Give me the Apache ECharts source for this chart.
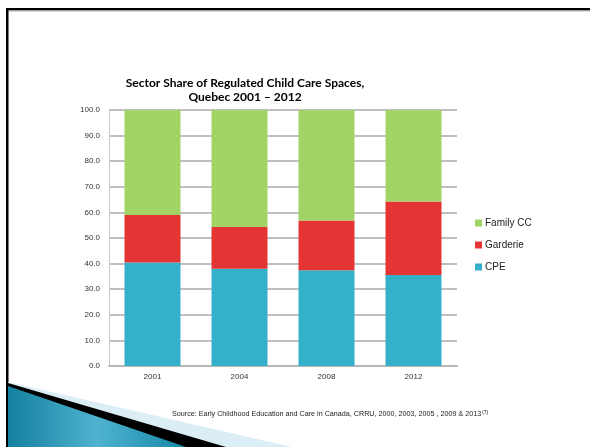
<!DOCTYPE html>
<html><head><meta charset="utf-8">
<script src="https://cdn.jsdelivr.net/npm/echarts@6/dist/echarts.min.js"></script>
<style>html,body{margin:0;padding:0;background:#fff}#c{width:590px;height:447px}</style>
</head><body><div id="c"></div>
<script>
var categories = ['2001', '2004', '2008', '2012'];
var cpe = [40.4, 38.0, 37.4, 35.5];
var garderie = [18.6, 16.3, 19.4, 28.8];
var familyCC = [41.0, 45.7, 43.2, 35.7];
var yTicks = [0, 10, 20, 30, 40, 50, 60, 70, 80, 90, 100];

var chart = echarts.init(document.getElementById('c'));
var font = "'Liberation Sans', sans-serif";
chart.setOption({
  backgroundColor: '#fff',
  animation: false,
  title: {
    text: 'Sector Share of Regulated Child Care Spaces,\nQuebec 2001 \u2013 2012',
    left: 240, top: 71, textAlign: 'center',
    textStyle: { fontFamily: 'Lato, sans-serif', fontWeight: 'bold', fontSize: 12, lineHeight: 14, color: '#000' }
  },
  legend: {
    orient: 'vertical', left: 470, top: 213, itemGap: 12,
    itemWidth: 7, itemHeight: 7, icon: 'rect',
    data: ['Family CC', 'Garderie', 'CPE'],
    textStyle: { fontFamily: font, fontSize: 10, color: '#222', padding: [0,0,0,-2] }
  },
  grid: { left: 109, right: 133, top: 110, bottom: 81 },
  xAxis: {
    type: 'category', data: categories,
    axisLine: { lineStyle: { color: '#b8b8b8', width: 2 } },
    axisTick: { show: false },
    axisLabel: { fontFamily: font, fontSize: 8, color: '#333', margin: 7 }
  },
  yAxis: {
    type: 'value', min: 0, max: 100, interval: 10,
    axisLine: { show: true, lineStyle: { color: '#c8c8c8', width: 1 } },
    axisTick: { show: false },
    splitLine: { lineStyle: { color: '#aaa', width: 1.5 } },
    axisLabel: { fontFamily: font, fontSize: 8, color: '#333', margin: 9,
      formatter: function (v) { return yTicks.indexOf(v) >= 0 ? v.toFixed(1) : ''; } }
  },
  series: [
    { name: 'CPE', type: 'bar', stack: 's', data: cpe, barWidth: 56, itemStyle: { color: '#35b0ca' } },
    { name: 'Garderie', type: 'bar', stack: 's', data: garderie, itemStyle: { color: '#e53434' } },
    { name: 'Family CC', type: 'bar', stack: 's', data: familyCC, itemStyle: { color: '#a2d465' } }
  ],
  graphic: [
    { type: 'rect', shape: { x: 6, y: 8, width: 584, height: 2.5 }, style: { fill: '#000' } },
    { type: 'rect', shape: { x: 8, y: 10.5, width: 582, height: 1 }, style: { fill: '#bbb' } },
    { type: 'rect', shape: { x: 6, y: 8, width: 2.5, height: 439 }, style: { fill: '#000' } },
    { type: 'polygon', shape: { points: [[8, 382], [292, 447], [8, 447]] }, style: { fill: '#dbeef5' } },
    { type: 'polygon', shape: { points: [[8, 383], [226, 447], [8, 447]] }, style: { fill: '#000' } },
    { type: 'polygon', shape: { points: [[8, 386], [186, 447], [8, 447]] },
      style: { fill: new echarts.graphic.LinearGradient(0, 0, 1, 0, [
        { offset: 0, color: '#14809f' }, { offset: 0.5, color: '#4fb2cf' }, { offset: 1, color: '#1689aa' }]) } },
    { type: 'text', left: 172, top: 411,
      style: { text: 'Source: Early Childhood Education and Care in Canada, CRRU, 2000, 2003, 2005 , 2009 & 2013', fontFamily: font, fontSize: 7.2, fill: '#222' } },
    { type: 'text', left: 482, top: 410,
      style: { text: '(7)', fontFamily: font, fontSize: 5, fill: '#222' } }
  ]
});
</script></body></html>
